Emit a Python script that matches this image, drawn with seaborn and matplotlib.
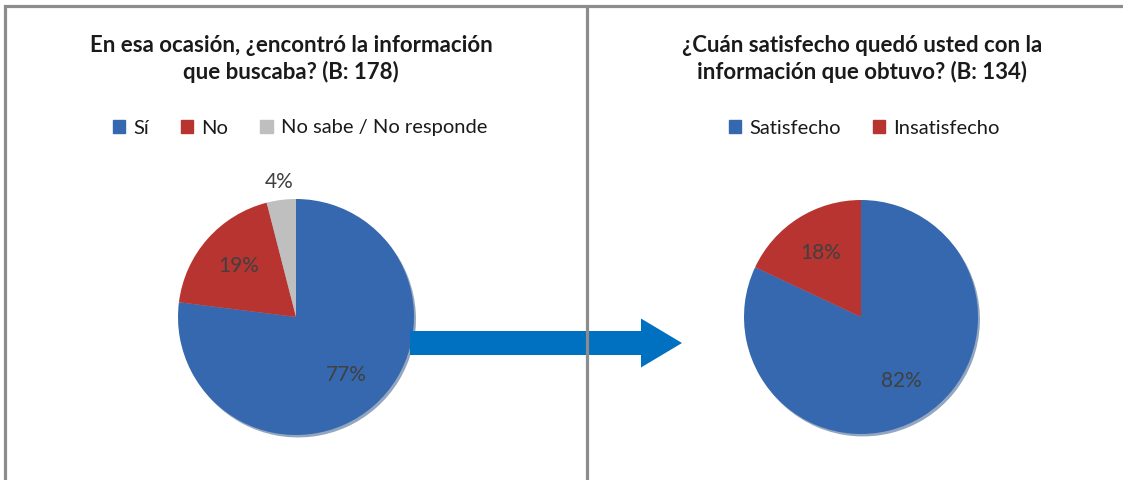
import matplotlib
matplotlib.use("Agg")
import matplotlib.pyplot as plt
import seaborn as sns
from matplotlib.patches import FancyArrow, Patch
import numpy as np

# data
left_title  = "En esa ocasión, ¿encontró la información\nque buscaba? (B: 178)"
left_labels = ["Sí", "No", "No sabe / No responde"]
left_values = [77, 19, 4]

right_title  = "¿Cuán satisfecho quedó usted con la\ninformación que obtuvo? (B: 134)"
right_labels = ["Satisfecho", "Insatisfecho"]
right_values = [82, 18]

BLUE  = "#3568AE"
RED   = "#B83431"
GRAY  = "#BFBFBF"
ARROW = "#0070C0"
BORDER = "#8C8C8C"

sns.set_theme(style="white")
plt.rcParams["font.family"] = ["Lato", "DejaVu Sans"]

W, H = 1123, 480
fig = plt.figure(figsize=(W / 100, H / 100), dpi=100)


def pie_axes(cx, cy, r):
    ax = fig.add_axes([(cx - r) / W, (H - cy - r) / H, 2 * r / W, 2 * r / H])
    return ax


def draw_pie(ax, values, colors):
    wedges, _, autotexts = ax.pie(
        values, colors=colors, startangle=90, counterclock=False,
        autopct=lambda p: f"{p:.0f}%", pctdistance=0.65, radius=1,
        wedgeprops=dict(linewidth=0),
        shadow=dict(ox=0.012, oy=-0.015, shade=0.25),
        textprops=dict(fontsize=15, color="#404040"),
    )
    # small slices get their label outside the pie
    for w, t, v in zip(wedges, autotexts, values):
        if v < 5:
            ang = np.deg2rad((w.theta1 + w.theta2) / 2)
            t.set_position((1.15 * np.cos(ang), 1.15 * np.sin(ang)))
    # pie() resets the limits, so set them afterwards
    ax.set_xlim(-1, 1)
    ax.set_ylim(-1, 1)
    ax.set_aspect("equal")
    ax.axis("off")
    return wedges


ax1 = pie_axes(296, 317, 118)
draw_pie(ax1, left_values, [BLUE, RED, GRAY])
ax2 = pie_axes(861, 317, 117)
draw_pie(ax2, right_values, [BLUE, RED])

# titles
fig.text(291 / W, 1 - 59 / H, left_title, ha="center", va="center",
         fontsize=16, fontweight="bold", color="#1a1a1a", linespacing=1.28)
fig.text(862 / W, 1 - 59 / H, right_title, ha="center", va="center",
         fontsize=16, fontweight="bold", color="#1a1a1a", linespacing=1.28)

# legends
h1 = [Patch(color=c) for c in [BLUE, RED, GRAY]]
fig.legend(h1, left_labels, loc="center", bbox_to_anchor=(300 / W, 1 - 128 / H),
           ncol=3, frameon=False, fontsize=14.5, handlelength=0.6, handleheight=0.6,
           handletextpad=0.4, columnspacing=1.6, labelcolor="#1a1a1a")
h2 = [Patch(color=c) for c in [BLUE, RED]]
fig.legend(h2, right_labels, loc="center", bbox_to_anchor=(864 / W, 1 - 128 / H),
           ncol=2, frameon=False, fontsize=14.5, handlelength=0.6, handleheight=0.6,
           handletextpad=0.4, columnspacing=1.6, labelcolor="#1a1a1a")

# overlay for borders and arrow (pixel coordinates)
ov = fig.add_axes([0, 0, 1, 1], zorder=5)
ov.set_xlim(0, W)
ov.set_ylim(H, 0)
ov.axis("off")
ov.patch.set_alpha(0)
ov.plot([5, 5, W + 5], [H + 5, 6, 6], color=BORDER, lw=2.3, solid_joinstyle="miter")
ov.plot([587, 587], [6, H + 5], color=BORDER, lw=2.3)
ov.add_patch(FancyArrow(410, 343, 272, 0, width=24, head_width=49, head_length=41,
                        length_includes_head=True, color=ARROW, lw=0))

fig.savefig("out.png", dpi=100)
